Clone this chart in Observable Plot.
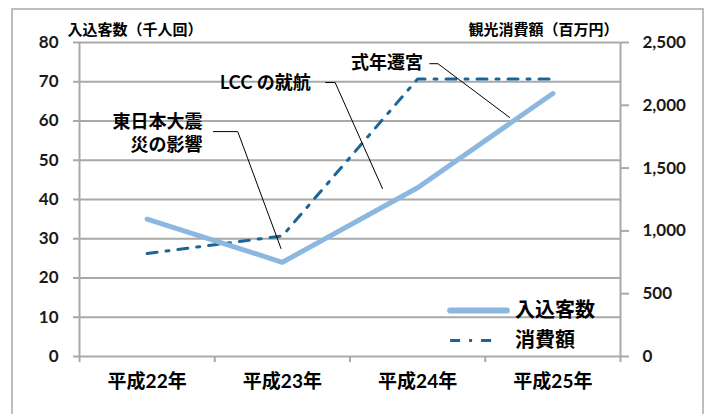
<!DOCTYPE html>
<html><head><meta charset="utf-8">
<script src="https://cdn.jsdelivr.net/npm/d3@7"></script>
<script src="https://cdn.jsdelivr.net/npm/@observablehq/plot@0.6"></script>
<style>
html,body{margin:0;padding:0;background:#fff;overflow:hidden}
#wrap{position:relative;width:709px;height:414px}
#border{position:absolute;left:11px;top:8px;width:693px;height:440px;border:2px solid #bdbdbd;box-sizing:border-box}
#chart{position:absolute;left:0;top:0}
#chart svg text{font-weight:bold}
</style></head><body>
<div id="wrap"><div id="border"></div><div id="chart"></div></div>
<script>
// ---- data ----
const years = ["平成22年", "平成23年", "平成24年", "平成25年"];
const visitors = [35, 24, 43, 67];          // 入込客数 (千人回)
const spending = [820, 960, 2210, 2210];    // 観光消費額 (百万円)
const leftTicks = [0, 10, 20, 30, 40, 50, 60, 70, 80];
const rightTicks = [0, 500, 1000, 1500, 2000, 2500];
const seriesNames = ["入込客数", "消費額"];
const leftTitle = "入込客数（千人回）";
const rightTitle = "観光消費額（百万円）";
const noteLabels = [["LCC の就航"], ["東日本大震", "災の影響"], ["式年遷宮"]];

// ---- layout (data coordinates for annotations / legend) ----
const notePlace = [
  {x: 1.71, y: [69.6], path: [[1.82, 69.8], [1.89, 69.8], [2.24, 42.8]]},
  {x: 0.91, y: [59.6, 53.8], path: [[0.99, 57.3], [1.17, 57.3], [1.49, 27.5]]},
  {x: 2.54, y: [74.6], path: [[2.59, 74.6], [2.65, 74.6], [3.18, 60.9]]}
];
const legendPlace = [{x1: 2.74, x2: 3.16, y: 11.7, tx: 3.22}, {x1: 2.74, x2: 3.07, y: 4.1, tx: 3.22}];

const k = 80 / 2500;
const xi = i => i + 0.5;
const blue = "#8cb8e0", dark = "#1b6597", grid = "#a9a9a9";
const dash = "10,9,3,9";

const vis = years.map((y, i) => ({x: xi(i), v: visitors[i]}));
const spd = years.map((y, i) => ({x: xi(i), v: spending[i] * k}));

const noteText = [];
const noteLines = [];
noteLabels.forEach((lines, j) => {
  lines.forEach((t, m) => noteText.push({x: notePlace[j].x, y: notePlace[j].y[m], t}));
  notePlace[j].path.forEach(([x, y]) => noteLines.push({x, y, z: j}));
});

const cjk = "Lato, 'Noto Sans CJK JP', sans-serif";

const chart = Plot.plot({
  width: 709, height: 414,
  marginLeft: 79, marginRight: 89, marginTop: 42, marginBottom: 58,
  style: {fontFamily: cjk, fontSize: "17px", fontWeight: "bold", color: "#000", background: "transparent"},
  x: {domain: [0, 4], axis: null},
  y: {domain: [0, 80], axis: null},
  marks: [
    Plot.ruleY(leftTicks.filter(d => d > 0), {stroke: grid, strokeWidth: 2}),
    Plot.ruleX([0, 4], {stroke: grid, strokeWidth: 2}),
    Plot.ruleY([0], {stroke: grid, strokeWidth: 2}),
    Plot.axisY({anchor: "left", ticks: leftTicks, tickSize: 6, tickPadding: 15, stroke: grid, strokeWidth: 2, fill: "#1a1a1a", fontSize: 17, label: null}),
    Plot.axisY({anchor: "right", ticks: rightTicks.map(v => v * k), tickSize: 8, tickPadding: 14, stroke: grid, strokeWidth: 2, fill: "#1a1a1a", fontSize: 17,
      tickFormat: d => d3.format(",")(Math.round(d / k)), label: null}),
    Plot.axisX({ticks: [0, 1, 2, 3, 4], tickSize: 6, stroke: grid, strokeWidth: 2, tickFormat: () => "", label: null}),
    Plot.axisX({ticks: years.map((d, i) => xi(i)), tickSize: 0, tickPadding: 18, fill: "#000", fontSize: 19, fontWeight: "bold",
      tickFormat: d => years[Math.floor(d)], label: null}),
    Plot.text([leftTitle], {frameAnchor: "top-left", textAnchor: "start", lineAnchor: "middle", dx: -12, dy: -12, fontSize: 15, fontWeight: "bold", fill: "#000"}),
    Plot.text([rightTitle], {frameAnchor: "top-right", textAnchor: "end", lineAnchor: "middle", dx: -2, dy: -12, fontSize: 15, fontWeight: "bold", fill: "#000"}),
    Plot.line(spd, {x: "x", y: "v", stroke: dark, strokeWidth: 3, strokeDasharray: dash}),
    Plot.line(vis, {x: "x", y: "v", stroke: blue, strokeWidth: 5, strokeLinejoin: "round", strokeLinecap: "round"}),
    Plot.line(noteLines, {x: "x", y: "y", z: "z", stroke: "#000", strokeWidth: 1}),
    Plot.text(noteText, {x: "x", y: "y", text: "t", textAnchor: "end", fontSize: 18, fontWeight: "bold", fill: "#000"}),
    // legend
    Plot.link([legendPlace[0]], {x1: "x1", x2: "x2", y1: "y", y2: "y", stroke: blue, strokeWidth: 6, strokeLinecap: "round"}),
    Plot.link([legendPlace[1]], {x1: "x1", x2: "x2", y1: "y", y2: "y", stroke: dark, strokeWidth: 3, strokeDasharray: dash}),
    Plot.text(legendPlace.map((d, i) => ({...d, t: seriesNames[i]})), {x: "tx", y: "y", text: "t", textAnchor: "start", fontSize: 20, fontWeight: "bold", fill: "#000"})
  ]
});
document.getElementById("chart").appendChild(chart);
</script>
</body></html>
